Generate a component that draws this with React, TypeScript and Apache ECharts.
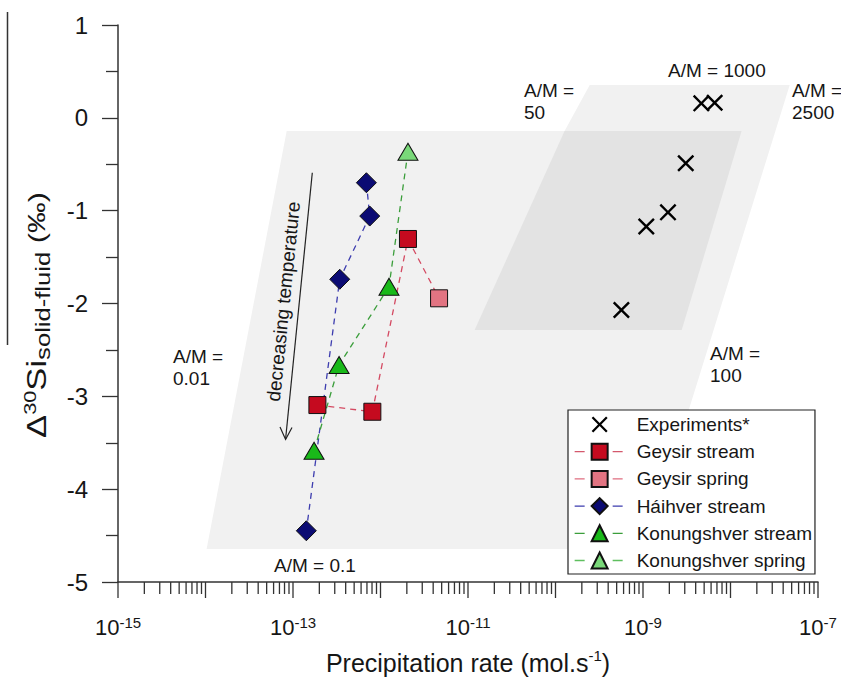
import React, { useEffect, useRef } from 'react';
import * as echarts from 'echarts';

// ---- axis tick values / labels ----
const xMajorTicks = [1e-15, 1e-14, 1e-13, 1e-12, 1e-11, 1e-10, 1e-9, 1e-8, 1e-7];
const xMinorMultipliers = [2, 3, 4, 5, 6, 7, 8, 9];
const xLabelValues = [1e-15, 1e-13, 1e-11, 1e-9, 1e-7];
const xLabelExponents = ['-15', '-13', '-11', '-9', '-7'];

// ---- data ----
const experimentsX = [4.64e-9, 6.59e-9, 3.08e-9, 1.93e-9, 1.09e-9, 5.66e-10];
const experimentsY = [0.156, 0.163, -0.49, -1.018, -1.17, -2.07];

const geysirStreamX = [1.9e-13, 8.07e-13, 2.06e-12];
const geysirStreamY = [-3.094, -3.166, -1.305];
const geysirSpringX = [4.67e-12];
const geysirSpringY = [-1.944];

const haihverStreamX = [6.9e-13, 7.53e-13, 3.42e-13, 1.42e-13];
const haihverStreamY = [-0.699, -1.058, -1.739, -4.448];

const konStreamX = [1.25e-12, 3.36e-13, 1.74e-13];
const konStreamY = [-1.819, -2.663, -3.586];
const konSpringX = [2.06e-12];
const konSpringY = [-0.365];

// ---- shaded A/M regions (data coordinates of polygon vertices) ----
const lightRegionX = [8.47e-14, 1.27e-10, 2.46e-10, 4.75e-8, 1.07e-9, 1.03e-14];
const lightRegionY = [-0.142, -0.142, 0.354, 0.354, -4.645, -4.645];
const darkRegionX = [1.27e-10, 1.34e-8, 2.77e-9, 1.19e-11];
const darkRegionY = [-0.142, -0.142, -2.286, -2.286];

const FONT = '"Liberation Sans", Arial, Helvetica, sans-serif';
const TXT = '#161616';

const xPath =
  'path://M2,0 L10,8 L18,0 L20,2 L12,10 L20,18 L18,20 L10,12 L2,20 L0,18 L8,10 L0,2 Z';

const zip = (xs: number[], ys: number[]) => xs.map((x, i) => [x, ys[i]]);

export default function App() {
  const ref = useRef<HTMLDivElement>(null);

  useEffect(() => {
    if (!ref.current) return;
    const chart = echarts.init(ref.current, undefined, { renderer: 'svg' });

    const tickData: number[][] = [];
    xMajorTicks.forEach((v, i) => {
      tickData.push([v, -5, 1]);
      if (i < xMajorTicks.length - 1) {
        xMinorMultipliers.forEach((m) => tickData.push([v * m, -5, 0]));
      }
    });

    const dash = [6, 5];
    const legendDash = [10, 28];

    const option: any = {
      animation: false,
      textStyle: { fontFamily: FONT },
      grid: {
        left: 118,
        top: 25,
        width: 700,
        height: 557,
        containLabel: false,
        outerBoundsMode: 'none',
      },
      xAxis: {
        type: 'log',
        logBase: 10,
        min: 1e-15,
        max: 1e-7,
        axisLine: { show: true, onZero: false, lineStyle: { color: '#333', width: 1.5 } },
        axisTick: { show: false },
        axisLabel: { show: false },
        splitLine: { show: false },
        minorTick: { show: false },
      },
      yAxis: {
        type: 'value',
        min: -5,
        max: 1,
        interval: 1,
        axisLine: { show: true, onZero: false, lineStyle: { color: '#333', width: 1.5 } },
        axisTick: { show: true, length: 16, lineStyle: { color: '#333', width: 1.3 } },
        minorTick: { show: true, splitNumber: 2, length: 12, lineStyle: { color: '#333', width: 1.3 } },
        axisLabel: { fontSize: 24, color: TXT, margin: 30, fontFamily: FONT },
        splitLine: { show: false },
        minorSplitLine: { show: false },
      },
      legend: {
        orient: 'vertical',
        left: 568,
        top: 410,
        itemWidth: 50,
        itemHeight: 20,
        itemGap: 8.2,
        padding: [5, 3, 4, 6],
        borderColor: '#222',
        borderWidth: 1.2,
        backgroundColor: '#fff',
        selectedMode: false,
        textStyle: { fontSize: 19, color: TXT, fontFamily: FONT, padding: [0, 0, 0, 7] },
        data: [
          { name: 'Experiments*', lineStyle: { width: 0, opacity: 0 } },
          { name: 'Geysir stream', lineStyle: { type: legendDash, color: '#d4586c', width: 1.3 } },
          { name: 'Geysir spring', lineStyle: { type: legendDash, color: '#e06e80', width: 1.3 } },
          { name: 'Háihver stream', lineStyle: { type: legendDash, color: '#3d3daf', width: 1.3 } },
          { name: 'Konungshver stream', lineStyle: { type: legendDash, color: '#3b9e3b', width: 1.3 } },
          { name: 'Konungshver spring', lineStyle: { type: legendDash, color: '#5fbf5f', width: 1.3 } },
        ],
      },
      series: [
        {
          type: 'custom',
          name: 'regions',
          z: 1,
          silent: true,
          data: [[1e-12, 0]],
          renderItem: (_p: any, api: any) => ({
            type: 'group',
            children: [
              {
                type: 'polygon',
                shape: { points: lightRegionX.map((x, i) => api.coord([x, lightRegionY[i]])) },
                style: { fill: '#f1f1f1' },
              },
              {
                type: 'polygon',
                shape: { points: darkRegionX.map((x, i) => api.coord([x, darkRegionY[i]])) },
                style: { fill: '#e3e3e3' },
              },
            ],
          }),
        },
        {
          type: 'custom',
          name: 'xticks',
          z: 5,
          silent: true,
          data: tickData,
          renderItem: (_p: any, api: any) => {
            const p = api.coord([api.value(0), api.value(1)]);
            const len = api.value(2) ? 16 : 12;
            return {
              type: 'line',
              shape: { x1: p[0], y1: p[1], x2: p[0], y2: p[1] + len },
              style: { stroke: '#333', lineWidth: 1.3 },
            };
          },
        },
        {
          type: 'custom',
          name: 'xlabels',
          z: 5,
          silent: true,
          data: xLabelValues.map((v, i) => [v, -5, i]),
          renderItem: (_p: any, api: any) => {
            const p = api.coord([api.value(0), api.value(1)]);
            const exp = xLabelExponents[api.value(2)];
            return {
              type: 'text',
              x: p[0],
              y: p[1] + 45.7,
              style: {
                text: '{b|10}{s|' + exp + '}',
                align: 'center',
                verticalAlign: 'middle',
                fill: TXT,
                rich: {
                  b: { fontSize: 22, lineHeight: 25, fontFamily: FONT, fill: TXT },
                  s: { fontSize: 15, lineHeight: 15, verticalAlign: 'top', fontFamily: FONT, fill: TXT },
                },
              },
            };
          },
        },
        {
          type: 'line',
          name: 'Experiments*',
          z: 4,
          data: zip(experimentsX, experimentsY),
          symbol: xPath,
          symbolSize: 17,
          itemStyle: { color: '#000' },
          lineStyle: { width: 0, color: 'rgba(0,0,0,0)' },
        },
        {
          type: 'line',
          name: 'Geysir stream',
          z: 4,
          data: zip(geysirStreamX, geysirStreamY),
          symbol: 'rect',
          symbolSize: 17,
          itemStyle: { color: '#c50a1f', borderColor: '#111', borderWidth: 1 },
          lineStyle: { color: '#d44a62', width: 1.3, type: dash },
        },
        {
          type: 'line',
          name: 'Geysir spring',
          z: 4,
          data: [
            { value: [geysirStreamX[2], geysirStreamY[2]], symbol: 'none' },
            ...zip(geysirSpringX, geysirSpringY),
          ],
          symbol: 'rect',
          symbolSize: 17,
          itemStyle: { color: '#e27482', borderColor: '#111', borderWidth: 1 },
          lineStyle: { color: '#d44a62', width: 1.3, type: dash },
        },
        {
          type: 'line',
          name: 'Háihver stream',
          z: 4,
          data: zip(haihverStreamX, haihverStreamY),
          symbol: 'diamond',
          symbolSize: [20, 20],
          itemStyle: { color: '#0b0b73', borderColor: '#111', borderWidth: 1 },
          lineStyle: { color: '#3d3daf', width: 1.3, type: dash },
        },
        {
          type: 'line',
          name: 'Konungshver stream',
          z: 4,
          data: zip(konStreamX, konStreamY),
          symbol: 'triangle',
          symbolSize: [20, 17],
          itemStyle: { color: '#19b919', borderColor: '#111', borderWidth: 1 },
          lineStyle: { color: '#3b9e3b', width: 1.3, type: dash },
        },
        {
          type: 'line',
          name: 'Konungshver spring',
          z: 4,
          data: [
            ...zip(konSpringX, konSpringY),
            { value: [konStreamX[0], konStreamY[0]], symbol: 'none' },
          ],
          symbol: 'triangle',
          symbolSize: [20, 17],
          itemStyle: { color: '#79d879', borderColor: '#111', borderWidth: 1 },
          lineStyle: { color: '#3b9e3b', width: 1.3, type: dash },
        },
      ],
      graphic: [
        {
          type: 'line',
          shape: { x1: 7.5, y1: 12, x2: 7.5, y2: 345 },
          style: { stroke: '#333', lineWidth: 1.5 },
          silent: true,
        },
        {
          type: 'text',
          x: 37,
          y: 315,
          rotation: Math.PI / 2,
          scaleX: 1.28,
          silent: true,
          style: {
            text: '{a|Δ}{s|30}{a|Si}{b|solid-fluid}{c| (‰)}',
            align: 'center',
            verticalAlign: 'middle',
            fill: TXT,
            rich: {
              a: { fontSize: 27, lineHeight: 32, fontFamily: FONT, fill: TXT },
              s: { fontSize: 17, lineHeight: 17, verticalAlign: 'top', fontFamily: FONT, fill: TXT },
              b: { fontSize: 20, lineHeight: 22, verticalAlign: 'bottom', fontFamily: FONT, fill: TXT },
              c: { fontSize: 24, lineHeight: 30, fontFamily: FONT, fill: TXT },
            },
          },
        },
        {
          type: 'text',
          x: 468,
          y: 663,
          silent: true,
          style: {
            text: '{a|Precipitation rate (mol.s}{s|-1}{a|)}',
            align: 'center',
            verticalAlign: 'middle',
            fill: TXT,
            rich: {
              a: { fontSize: 25, lineHeight: 30, fontFamily: FONT, fill: TXT },
              s: { fontSize: 15, lineHeight: 15, verticalAlign: 'top', fontFamily: FONT, fill: TXT },
            },
          },
        },
        ...[
          { t: 'A/M =\n0.01', x: 173, y: 346 },
          { t: 'A/M = 0.1', x: 274, y: 554.5 },
          { t: 'A/M =\n50', x: 524, y: 80 },
          { t: 'A/M = 1000', x: 668, y: 59.5 },
          { t: 'A/M =\n2500', x: 792, y: 79.5 },
          { t: 'A/M =\n100', x: 710, y: 343 },
        ].map((a) => ({
          type: 'text',
          x: a.x,
          y: a.y,
          silent: true,
          z: 10,
          style: {
            text: a.t,
            fontSize: 19,
            lineHeight: 21.7,
            fontFamily: FONT,
            fill: TXT,
            align: 'left',
            verticalAlign: 'top',
          },
        })),
        {
          type: 'line',
          shape: { x1: 312.3, y1: 172.7, x2: 285.6, y2: 439 },
          style: { stroke: '#222', lineWidth: 1.2 },
          silent: true,
          z: 10,
        },
        {
          type: 'polyline',
          shape: { points: [[280, 427], [285.6, 439.5], [292, 427.5]] },
          style: { stroke: '#222', lineWidth: 1.2, fill: 'none' },
          silent: true,
          z: 10,
        },
        {
          type: 'text',
          x: 283.5,
          y: 301.5,
          rotation: 1.47,
          silent: true,
          z: 10,
          style: {
            text: 'decreasing temperature',
            fontSize: 19,
            fontFamily: FONT,
            fill: TXT,
            align: 'center',
            verticalAlign: 'middle',
          },
        },
      ],
    };

    chart.setOption(option);
    return () => chart.dispose();
  }, []);

  return (
    <div
      ref={ref}
      style={{ position: 'fixed', left: 0, top: 0, width: 841, height: 678, background: '#fff' }}
    />
  );
}
